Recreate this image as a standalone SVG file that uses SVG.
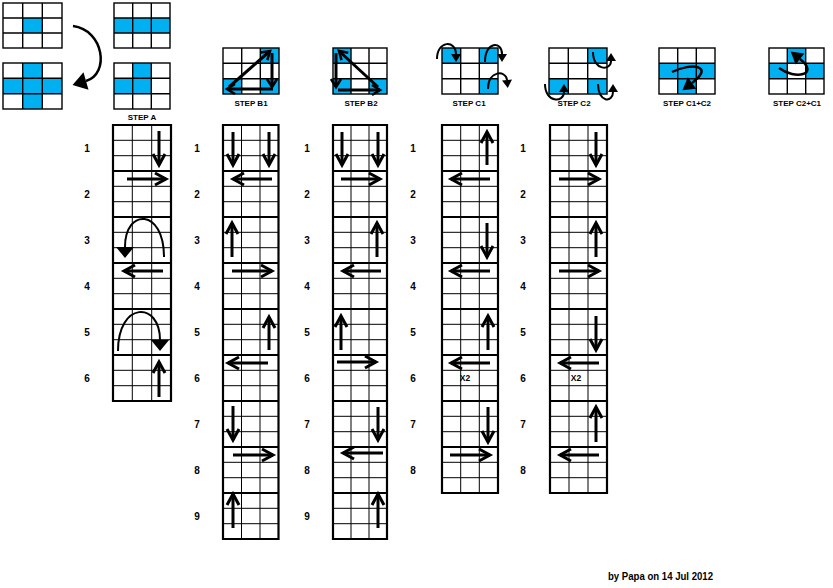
<svg xmlns="http://www.w3.org/2000/svg" width="833" height="588" viewBox="0 0 833 588">
<style>
.bg{fill:#fff}
.blue{fill:#00B0F0}
.ig{stroke:#000;stroke-width:1.4;fill:none}
.thin{stroke:#000;stroke-width:1;fill:none}
.thick{stroke:#000;stroke-width:2.2;fill:none}
.arr{stroke:#000;stroke-width:3;fill:none;marker-end:url(#chev)}
.arrs{stroke:#000;stroke-width:3;fill:none;marker-end:url(#chevS)}
.crvL{stroke:#000;stroke-width:2.5;fill:none;marker-end:url(#triL)}
.crvA{stroke:#000;stroke-width:2;fill:none;marker-end:url(#triA)}
.crvS{stroke:#000;stroke-width:2;fill:none;marker-end:url(#triS)}
.crvM{stroke:#000;stroke-width:2.5;fill:none;marker-end:url(#triM)}
text{font-family:"Liberation Sans",Arial,sans-serif;font-weight:bold;fill:#000}
.lbl{font-size:8px;text-anchor:middle}
.num{font-size:10px;text-anchor:middle}
.x2{font-size:8.5px;text-anchor:middle}
.foot{font-size:10px}
</style>
<defs>
<marker id="chev" markerUnits="userSpaceOnUse" viewBox="-16 -10 20 20" markerWidth="20" markerHeight="20" refX="0" refY="0" orient="auto" overflow="visible"><path d="M-11,-6L0,0L-11,6" fill="none" stroke="#000" stroke-width="3"/></marker>
<marker id="chevS" markerUnits="userSpaceOnUse" viewBox="-12 -8 16 16" markerWidth="16" markerHeight="16" refX="0" refY="0" orient="auto" overflow="visible"><path d="M-8,-5L0,0L-8,5" fill="none" stroke="#000" stroke-width="2.6"/></marker>
<marker id="triL" markerUnits="userSpaceOnUse" viewBox="-2 -10 18 20" markerWidth="18" markerHeight="20" refX="0" refY="0" orient="auto" overflow="visible"><path d="M0,-9L14,0L0,9Z" fill="#000"/></marker>
<marker id="triA" markerUnits="userSpaceOnUse" viewBox="-2 -10 16 20" markerWidth="16" markerHeight="20" refX="0" refY="0" orient="auto" overflow="visible"><path d="M0,-9L11,0L0,9Z" fill="#000"/></marker>
<marker id="triS" markerUnits="userSpaceOnUse" viewBox="-2 -6 12 12" markerWidth="12" markerHeight="12" refX="0" refY="0" orient="auto" overflow="visible"><path d="M0,-5L8,0L0,5Z" fill="#000"/></marker>
<marker id="triM" markerUnits="userSpaceOnUse" viewBox="-2 -8 16 16" markerWidth="16" markerHeight="16" refX="0" refY="0" orient="auto" overflow="visible"><path d="M0,-7L12,0L0,7Z" fill="#000"/></marker>
</defs>
<rect class="bg" x="0" y="0" width="833" height="588"/>

<!-- top-left icons -->
<g id="icon-g1">
<rect class="blue" x="22.7" y="18" width="19.6" height="15"/>
<rect class="ig" x="3" y="3" width="59" height="45"/>
<path class="ig" d="M22.7,3V48M42.3,3V48M3,18H62M3,33H62"/>
</g>
<g id="icon-g2">
<rect class="blue" x="114" y="18" width="56" height="15"/>
<rect class="ig" x="114" y="3" width="56" height="45"/>
<path class="ig" d="M132.7,3V48M151.3,3V48M114,18H170M114,33H170"/>
</g>
<g id="icon-g3">
<rect class="blue" x="22.7" y="63" width="19.6" height="46"/>
<rect class="blue" x="3" y="78.3" width="59" height="15.4"/>
<rect class="ig" x="3" y="63" width="59" height="46"/>
<path class="ig" d="M22.7,63V109M42.3,63V109M3,78.3H62M3,93.7H62"/>
</g>
<g id="icon-stepA">
<rect class="blue" x="132.7" y="63" width="18.6" height="30.7"/>
<rect class="blue" x="114" y="78.3" width="37.3" height="15.4"/>
<rect class="ig" x="114" y="63" width="56" height="46"/>
<path class="ig" d="M132.7,63V109M151.3,63V109M114,78.3H170M114,93.7H170"/>
<text class="lbl" x="142" y="120">STEP A</text>
</g>

<!-- step icons -->
<g id="icon-stepB1">
<rect class="blue" x="260.3" y="48" width="18.7" height="15.3"/>
<rect class="blue" x="223" y="78.7" width="18.7" height="15.3"/>
<rect class="blue" x="260.3" y="78.7" width="18.7" height="15.3"/>
<rect class="ig" x="223" y="48" width="56" height="46"/>
<path class="ig" d="M241.7,48V94M260.3,48V94M223,63.3H279M223,78.7H279"/>
<path class="arrs" d="M229,87L270,51"/>
<path class="arrs" d="M272,53V87"/>
<path class="arrs" d="M273,89H227"/>
<text class="lbl" x="251" y="106">STEP B1</text>
</g>
<g id="icon-stepB2">
<rect class="blue" x="333" y="48" width="18" height="15.3"/>
<rect class="blue" x="333" y="78.7" width="18" height="15.3"/>
<rect class="blue" x="369" y="78.7" width="18" height="15.3"/>
<rect class="ig" x="333" y="48" width="54" height="46"/>
<path class="ig" d="M351,48V94M369,48V94M333,63.3H387M333,78.7H387"/>
<path class="arrs" d="M378,87L339,51"/>
<path class="arrs" d="M336,53V87"/>
<path class="arrs" d="M338,90H380"/>
<text class="lbl" x="361" y="106">STEP B2</text>
</g>
<g id="icon-stepC1">
<rect class="blue" x="442" y="48" width="18.7" height="15.3"/>
<rect class="blue" x="479.3" y="48" width="18.7" height="15.3"/>
<rect class="blue" x="479.3" y="78.7" width="18.7" height="15.3"/>
<rect class="ig" x="442" y="48" width="56" height="46"/>
<path class="ig" d="M460.7,48V94M479.3,48V94M442,63.3H498M442,78.7H498"/>
<path class="crvS" d="M437,59C437,40 456,40 456,54"/>
<path class="crvS" d="M485,62C485,41 502,41 502,54"/>
<path class="crvS" d="M488,89C488,70 506,70 507,80"/>
<text class="lbl" x="469" y="106">STEP C1</text>
</g>
<g id="icon-stepC2">
<rect class="blue" x="587.7" y="48" width="19.3" height="15.3"/>
<rect class="blue" x="549" y="78.7" width="19.3" height="15.3"/>
<rect class="blue" x="587.7" y="78.7" width="19.3" height="15.3"/>
<rect class="ig" x="549" y="48" width="58" height="46"/>
<path class="ig" d="M568.3,48V94M587.7,48V94M549,63.3H607M549,78.7H607"/>
<path class="crvS" d="M593,52C593,71 611,71 611,61"/>
<path class="crvS" d="M545,84C545,103 564,103 564,92"/>
<path class="crvS" d="M598,84C598,103 613,103 613,92"/>
<text class="lbl" x="574" y="106">STEP C2</text>
</g>
<g id="icon-stepC1C2">
<rect class="blue" x="659" y="63.3" width="56" height="15.4"/>
<rect class="blue" x="677.7" y="78.7" width="18.6" height="15.3"/>
<rect class="ig" x="659" y="48" width="56" height="46"/>
<path class="ig" d="M677.7,48V94M696.3,48V94M659,63.3H715M659,78.7H715"/>
<path class="crvM" d="M672,72C692,62 715,66 692,83"/>
<text class="lbl" x="687" y="106">STEP C1+C2</text>
</g>
<g id="icon-stepC2C1">
<rect class="blue" x="787.3" y="48" width="18.4" height="15.3"/>
<rect class="blue" x="769" y="63.3" width="18.3" height="15.4"/>
<rect class="blue" x="805.7" y="63.3" width="18.3" height="15.4"/>
<rect class="ig" x="769" y="48" width="55" height="46"/>
<path class="ig" d="M787.3,48V94M805.7,48V94M769,63.3H824M769,78.7H824"/>
<path class="crvM" d="M779,68C795,80 820,75 800,59"/>
<text class="lbl" x="797" y="106">STEP C2+C1</text>
</g>

<g id="connectors">
<path class="crvL" d="M73,26C104,30 110,74 86,81"/>
</g>

<!-- STEP A column -->
<g id="col-stepA">
<path class="thin" d="M113,140.3H171M113,155.7H171M113,186.3H171M113,201.7H171M113,232.3H171M113,247.7H171M113,278.3H171M113,293.7H171M113,324.3H171M113,339.7H171M113,370.3H171M113,385.7H171M132.3,125V401M151.7,125V401"/>
<path class="thick" d="M113,125H171M113,171H171M113,217H171M113,263H171M113,309H171M113,355H171M113,401H171M113,124V402M171,124V402"/>
<path class="arr" d="M159,131V165"/>
<path class="arr" d="M127,179H166"/>
<path class="crvA" d="M164,257C164,208 125,208 125,247"/>
<path class="arr" d="M163,271H124"/>
<path class="crvA" d="M118,351C118,301 160,301 160,340"/>
<path class="arr" d="M159,397V362"/>
<text class="num" x="87" y="152">1</text>
<text class="num" x="87" y="198">2</text>
<text class="num" x="87" y="244">3</text>
<text class="num" x="87" y="290">4</text>
<text class="num" x="87" y="336">5</text>
<text class="num" x="87" y="382">6</text>
</g>

<!-- STEP B1 column -->
<g id="col-stepB1">
<path class="thin" d="M223,140.3H278.5M223,155.7H278.5M223,186.3H278.5M223,201.7H278.5M223,232.3H278.5M223,247.7H278.5M223,278.3H278.5M223,293.7H278.5M223,324.3H278.5M223,339.7H278.5M223,370.3H278.5M223,385.7H278.5M223,416.3H278.5M223,431.7H278.5M223,462.3H278.5M223,477.7H278.5M223,508.3H278.5M223,523.7H278.5M241.5,125V539M260,125V539"/>
<path class="thick" d="M223,125H278.5M223,171H278.5M223,217H278.5M223,263H278.5M223,309H278.5M223,355H278.5M223,401H278.5M223,447H278.5M223,493H278.5M223,539H278.5M223,124V540M278.5,124V540"/>
<path class="arr" d="M233,132V165"/>
<path class="arr" d="M269,132V165"/>
<path class="arr" d="M272,179H233"/>
<path class="arr" d="M232,257V223"/>
<path class="arr" d="M232,271H272"/>
<path class="arr" d="M269,350V317"/>
<path class="arr" d="M268,363H228"/>
<path class="arr" d="M233,406V440"/>
<path class="arr" d="M233,455H273"/>
<path class="arr" d="M233,528V494"/>
<text class="num" x="197" y="152">1</text>
<text class="num" x="197" y="198">2</text>
<text class="num" x="197" y="244">3</text>
<text class="num" x="197" y="290">4</text>
<text class="num" x="197" y="336">5</text>
<text class="num" x="197" y="382">6</text>
<text class="num" x="197" y="428">7</text>
<text class="num" x="197" y="474">8</text>
<text class="num" x="197" y="520">9</text>
</g>

<!-- STEP B2 column -->
<g id="col-stepB2">
<path class="thin" d="M333,140.3H387M333,155.7H387M333,186.3H387M333,201.7H387M333,232.3H387M333,247.7H387M333,278.3H387M333,293.7H387M333,324.3H387M333,339.7H387M333,370.3H387M333,385.7H387M333,416.3H387M333,431.7H387M333,462.3H387M333,477.7H387M333,508.3H387M333,523.7H387M351,125V539M369,125V539"/>
<path class="thick" d="M333,125H387M333,171H387M333,217H387M333,263H387M333,309H387M333,355H387M333,401H387M333,447H387M333,493H387M333,539H387M333,124V540M387,124V540"/>
<path class="arr" d="M342,132V165"/>
<path class="arr" d="M378,132V165"/>
<path class="arr" d="M341,179H380"/>
<path class="arr" d="M377,257V223"/>
<path class="arr" d="M381,271H343"/>
<path class="arr" d="M341,350V316"/>
<path class="arr" d="M337,362H376"/>
<path class="arr" d="M378,407V440"/>
<path class="arr" d="M383,453H343"/>
<path class="arr" d="M378,528V494"/>
<text class="num" x="307" y="152">1</text>
<text class="num" x="307" y="198">2</text>
<text class="num" x="307" y="244">3</text>
<text class="num" x="307" y="290">4</text>
<text class="num" x="307" y="336">5</text>
<text class="num" x="307" y="382">6</text>
<text class="num" x="307" y="428">7</text>
<text class="num" x="307" y="474">8</text>
<text class="num" x="307" y="520">9</text>
</g>

<!-- STEP C1 column -->
<g id="col-stepC1">
<path class="thin" d="M442,140.3H498M442,155.7H498M442,186.3H498M442,201.7H498M442,232.3H498M442,247.7H498M442,278.3H498M442,293.7H498M442,324.3H498M442,339.7H498M442,370.3H498M442,385.7H498M442,416.3H498M442,431.7H498M442,462.3H498M442,477.7H498M460.7,125V493M479.3,125V493"/>
<path class="thick" d="M442,125H498M442,171H498M442,217H498M442,263H498M442,309H498M442,355H498M442,401H498M442,447H498M442,493H498M442,124V494M498,124V494"/>
<path class="arr" d="M487,165V132"/>
<path class="arr" d="M490,179H451"/>
<path class="arr" d="M487,223V257"/>
<path class="arr" d="M490,271H451"/>
<path class="arr" d="M488,350V316"/>
<path class="arr" d="M490,363H451"/>
<path class="arr" d="M488,407V442"/>
<path class="arr" d="M450,455H490"/>
<text class="x2" x="465" y="381">X2</text>
<text class="num" x="413" y="152">1</text>
<text class="num" x="413" y="198">2</text>
<text class="num" x="413" y="244">3</text>
<text class="num" x="413" y="290">4</text>
<text class="num" x="413" y="336">5</text>
<text class="num" x="413" y="382">6</text>
<text class="num" x="413" y="428">7</text>
<text class="num" x="413" y="474">8</text>
</g>

<!-- STEP C2 column -->
<g id="col-stepC2">
<path class="thin" d="M550,140.3H607M550,155.7H607M550,186.3H607M550,201.7H607M550,232.3H607M550,247.7H607M550,278.3H607M550,293.7H607M550,324.3H607M550,339.7H607M550,370.3H607M550,385.7H607M550,416.3H607M550,431.7H607M550,462.3H607M550,477.7H607M569,125V493M588,125V493"/>
<path class="thick" d="M550,125H607M550,171H607M550,217H607M550,263H607M550,309H607M550,355H607M550,401H607M550,447H607M550,493H607M550,124V494M607,124V494"/>
<path class="arr" d="M596,132V165"/>
<path class="arr" d="M559,179H599"/>
<path class="arr" d="M596,257V223"/>
<path class="arr" d="M559,271H599"/>
<path class="arr" d="M596,316V350"/>
<path class="arr" d="M599,363H560"/>
<path class="arr" d="M596,442V407"/>
<path class="arr" d="M599,455H560"/>
<text class="x2" x="576" y="381">X2</text>
<text class="num" x="523" y="152">1</text>
<text class="num" x="523" y="198">2</text>
<text class="num" x="523" y="244">3</text>
<text class="num" x="523" y="290">4</text>
<text class="num" x="523" y="336">5</text>
<text class="num" x="523" y="382">6</text>
<text class="num" x="523" y="428">7</text>
<text class="num" x="523" y="474">8</text>
</g>

<g id="footer">
<text class="foot" x="608" y="580" textLength="105" lengthAdjust="spacingAndGlyphs">by Papa on 14 Jul 2012</text>
</g>
</svg>
